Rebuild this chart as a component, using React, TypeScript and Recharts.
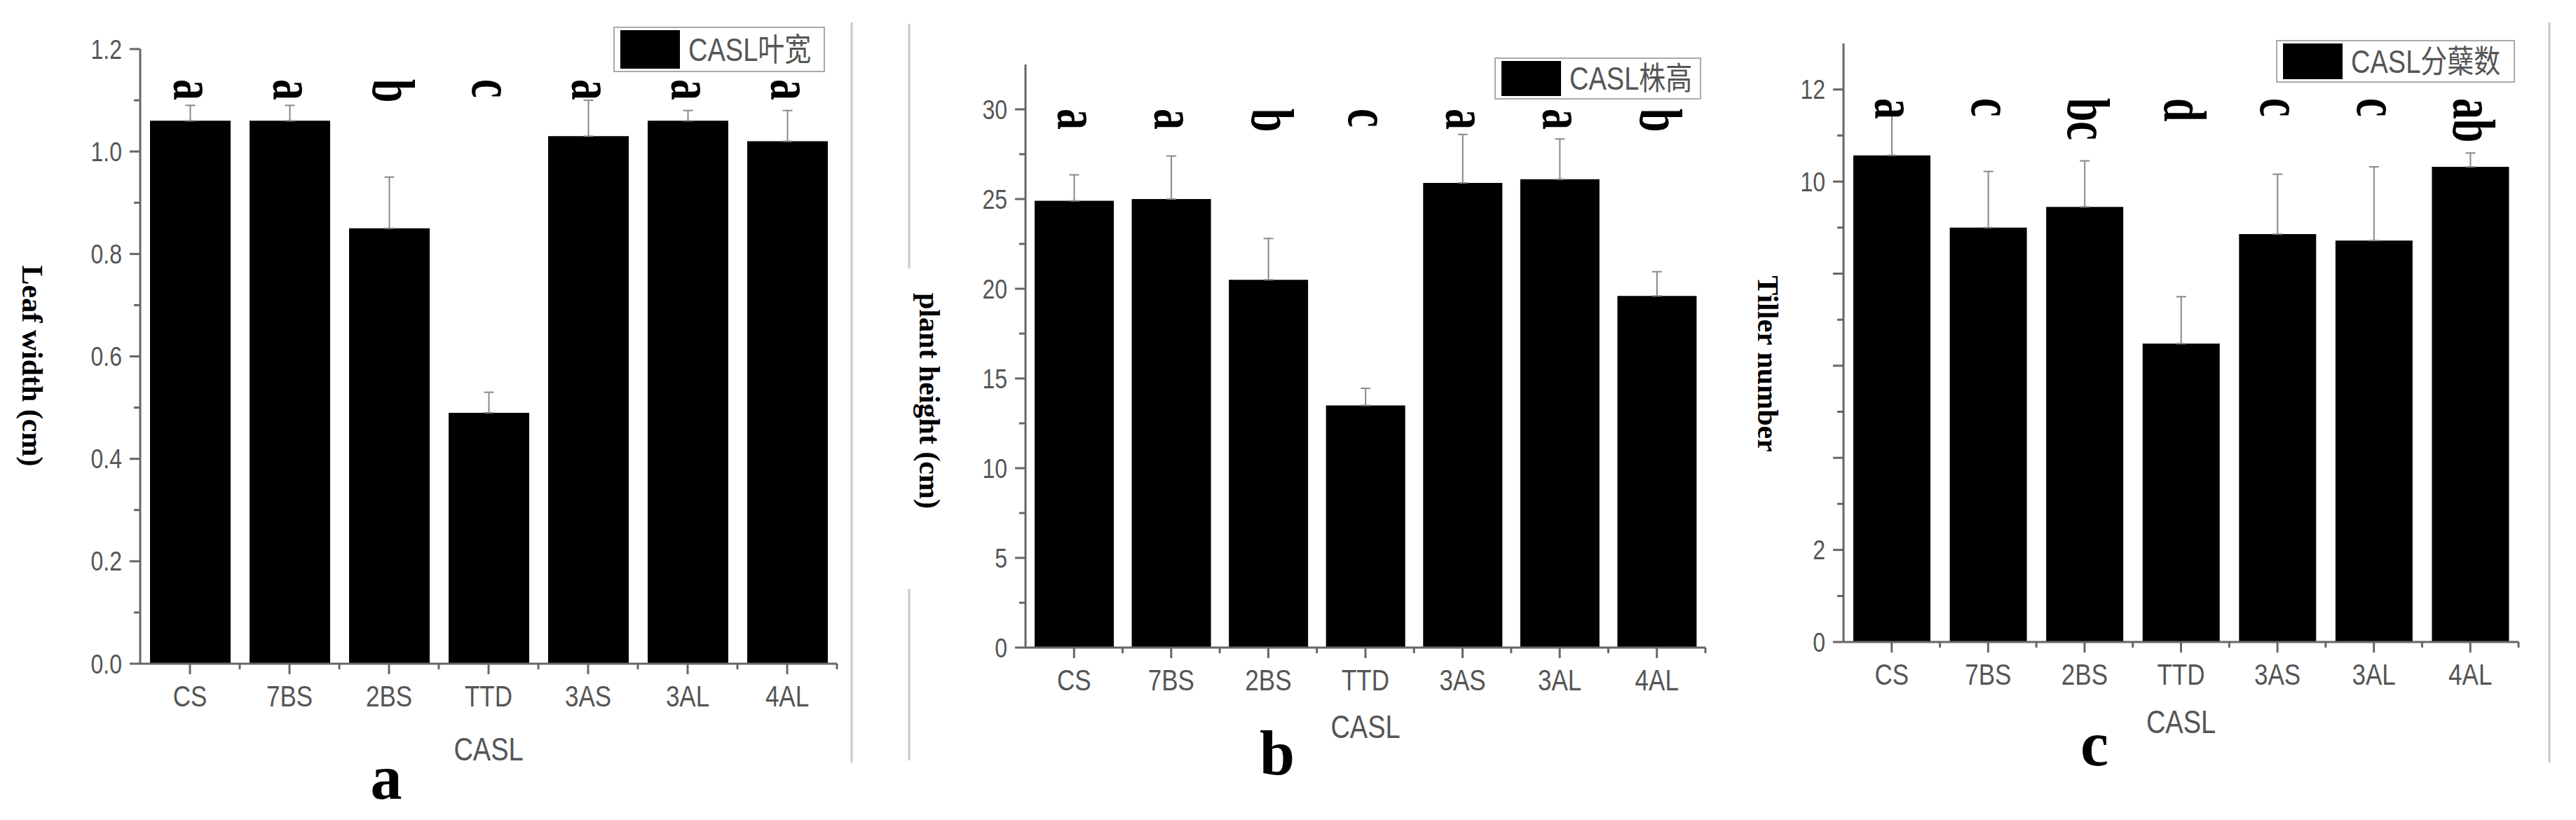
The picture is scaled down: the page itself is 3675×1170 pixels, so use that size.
import React from "react";
import { BarChart, Bar, XAxis, YAxis, ErrorBar, LabelList, Legend } from "recharts";

// shared categories (CASL lines)
const categories = ["CS", "7BS", "2BS", "TTD", "3AS", "3AL", "4AL"];
const xAxisTitle = "CASL";

// a: leaf width
const leafWidth = [1.06, 1.06, 0.85, 0.49, 1.03, 1.06, 1.02];
const leafWidthErr = [0.03, 0.03, 0.1, 0.04, 0.07, 0.02, 0.06];
const leafWidthLetters = ["a", "a", "b", "c", "a", "a", "a"];
const leafWidthTicks = [0, 0.1, 0.2, 0.3, 0.4, 0.5, 0.6, 0.7, 0.8, 0.9, 1.0, 1.1, 1.2];

// b: plant height
const plantHeight = [24.9, 25.0, 20.5, 13.5, 25.9, 26.1, 19.6];
const plantHeightErr = [1.45, 2.4, 2.3, 0.95, 2.7, 2.25, 1.35];
const plantHeightLetters = ["a", "a", "b", "c", "a", "a", "b"];
const plantHeightTicks = [0, 2.5, 5, 7.5, 10, 12.5, 15, 17.5, 20, 22.5, 25, 27.5, 30];

// c: tiller number
const tillerNumber = [10.57, 9.0, 9.45, 6.48, 8.86, 8.72, 10.32];
const tillerNumberErr = [0.87, 1.22, 1.0, 1.02, 1.3, 1.6, 0.3];
const tillerLetters = ["a", "c", "bc", "d", "c", "c", "ab"];
const tillerTicks = [0, 1, 2, 3, 4, 5, 6, 7, 8, 9, 10, 11, 12];
const tillerTickLabels = [0, 2, 10, 12];

const AXIS = "#666";
const TEXT = "#555";
const SANS = "'Liberation Sans', Arial, 'Noto Sans CJK SC', sans-serif";
const SERIF = "'Liberation Serif', 'Times New Roman', serif";
const H = 1170;
const Y_AXIS_W = 100;
const X_AXIS_H = 60;

type PanelProps = {
  left: number;
  width: number;
  plotLeft: number;
  plotTop: number;
  plotW: number;
  plotH: number;
  barSize: number;
  values: number[];
  errors: number[];
  letters: string[];
  ticks: number[];
  domainMax: number;
  isMajor: (v: number) => boolean;
  showLabel: (v: number) => boolean;
  format: (v: number) => string;
  yTitle: string;
  yTitleX: number;
  yTitleY: number;
  xTitleY: number;
  letterY: number;
  legendText: string;
  legendX: number;
  legendY: number;
  legendW: number;
  legendH: number;
};

function YTitle({ px, py, text }: { px: number; py: number; text: string }) {
  return (
    <text
      transform={`translate(${px},${py}) rotate(90)`}
      textAnchor="middle"
      fontSize={42}
      fontWeight="bold"
      fontFamily={SERIF}
      fill="#000"
    >
      {text}
    </text>
  );
}

function XTitle({ viewBox, py }: any) {
  const cx = viewBox.x + viewBox.width / 2;
  return (
    <text
      transform={`translate(${cx},${py}) scale(1,1.2)`}
      textAnchor="middle"
      dominantBaseline="central"
      fontSize={38}
      fill={TEXT}
      fontFamily={SANS}
    >
      {xAxisTitle}
    </text>
  );
}

function Panel(p: PanelProps) {
  const data = categories.map((name, i) => ({
    name,
    value: p.values[i],
    err: [0, p.errors[i]],
    letter: p.letters[i],
  }));
  const band = p.plotW / categories.length;
  const margin = {
    top: p.plotTop,
    left: p.plotLeft - Y_AXIS_W,
    right: p.width - p.plotLeft - p.plotW,
    bottom: H - p.plotTop - p.plotH - X_AXIS_H,
  };

  const yTick = (props: any) => {
    const { x, y, payload } = props;
    const v = payload.value;
    const major = p.isMajor(v);
    return (
      <g>
        <line x1={x} x2={x - (major ? 15 : 9)} y1={y} y2={y} stroke={AXIS} strokeWidth={3} />
        {major && p.showLabel(v) && (
          <text
            transform={`translate(${x - 26},${y}) scale(1,1.2)`}
            textAnchor="end"
            dominantBaseline="central"
            fontSize={32}
            fill={TEXT}
            fontFamily={SANS}
          >
            {p.format(v)}
          </text>
        )}
      </g>
    );
  };

  const xTick = (props: any) => {
    const { x, y, payload } = props;
    return (
      <g>
        <line x1={x} x2={x} y1={y} y2={y + 15} stroke={AXIS} strokeWidth={3} />
        <line x1={x + band / 2} x2={x + band / 2} y1={y} y2={y + 8} stroke={AXIS} strokeWidth={3} />
        <text
          transform={`translate(${x},${y + 46}) scale(1,1.2)`}
          textAnchor="middle"
          dominantBaseline="central"
          fontSize={35}
          fill={TEXT}
          fontFamily={SANS}
        >
          {payload.value}
        </text>
      </g>
    );
  };

  const letter = (props: any) => {
    const { x, width, value } = props;
    const cx = Number(x) + Number(width) / 2;
    return (
      <text
        transform={`translate(${cx - 24},${p.letterY}) scale(1.45,1) rotate(90)`}
        fontSize={60}
        fontWeight="bold"
        fontFamily={SERIF}
        fill="#000"
        textAnchor="start"
      >
        {value}
      </text>
    );
  };

  return (
    <div style={{ position: "absolute", left: p.left, top: 0, width: p.width, height: H }}>
      <BarChart width={p.width} height={H} data={data} margin={margin}>
        <XAxis
          dataKey="name"
          height={X_AXIS_H}
          axisLine={{ stroke: AXIS, strokeWidth: 3 }}
          tickLine={false}
          tickSize={0}
          tickMargin={0}
          tick={xTick}
          interval={0}
          label={<XTitle py={p.xTitleY} />}
        />
        <YAxis
          width={Y_AXIS_W}
          domain={[0, p.domainMax]}
          ticks={p.ticks}
          interval={0}
          axisLine={{ stroke: AXIS, strokeWidth: 3 }}
          tickLine={false}
          tickSize={0}
          tickMargin={0}
          tick={yTick}
          label={<YTitle px={p.yTitleX} py={p.yTitleY} text={p.yTitle} />}
        />
        <Legend
          layout="vertical"
          align="center"
          verticalAlign="middle"
          wrapperStyle={{ left: p.legendX, top: p.legendY, width: p.legendW, height: p.legendH }}
          content={() => (
            <div
              style={{
                display: "flex",
                alignItems: "center",
                boxSizing: "border-box",
                width: p.legendW,
                height: p.legendH,
                border: "2px solid #aaa",
                padding: "3px 8px",
                background: "#fff",
              }}
            >
              <div style={{ width: 85, height: p.legendH - 10, background: "#000", flex: "none" }} />
              <span
                style={{
                  marginLeft: 12,
                  fontSize: 38,
                  lineHeight: 1,
                  color: TEXT,
                  fontFamily: SANS,
                  whiteSpace: "nowrap",
                  display: "inline-block",
                  transform: "scaleY(1.2)",
                }}
              >
                {p.legendText}
              </span>
            </div>
          )}
        />
        <Bar dataKey="value" fill="#000" barSize={p.barSize} isAnimationActive={false}>
          <ErrorBar dataKey="err" width={7} stroke="#888" strokeWidth={2} />
          <LabelList dataKey="letter" content={letter} />
        </Bar>
      </BarChart>
    </div>
  );
}

export default function App() {
  return (
    <div style={{ position: "absolute", left: 0, top: 0, width: 3675, height: H, background: "#fff", overflow: "hidden" }}>
      <Panel
        left={0}
        width={1230}
        plotLeft={200}
        plotTop={70}
        plotW={994}
        plotH={877}
        barSize={115}
        values={leafWidth}
        errors={leafWidthErr}
        letters={leafWidthLetters}
        ticks={leafWidthTicks}
        domainMax={1.2}
        isMajor={(v) => Math.round(v * 10) % 2 === 0}
        showLabel={() => true}
        format={(v) => v.toFixed(1)}
        yTitle="Leaf width (cm)"
        yTitleX={32}
        yTitleY={522}
        xTitleY={1069}
        letterY={113}
        legendText="CASL叶宽"
        legendX={875}
        legendY={38}
        legendW={302}
        legendH={65}
      />
      <Panel
        left={1250}
        width={1230}
        plotLeft={213}
        plotTop={92}
        plotW={970}
        plotH={832}
        barSize={113}
        values={plantHeight}
        errors={plantHeightErr}
        letters={plantHeightLetters}
        ticks={plantHeightTicks}
        domainMax={32.5}
        isMajor={(v) => v % 5 === 0}
        showLabel={() => true}
        format={(v) => String(v)}
        yTitle="plant height (cm)"
        yTitleX={62}
        yTitleY={572}
        xTitleY={1037}
        letterY={155}
        legendText="CASL株高"
        legendX={882}
        legendY={82}
        legendW={295}
        legendH={60}
      />
      <Panel
        left={2480}
        width={1195}
        plotLeft={150}
        plotTop={62}
        plotW={963}
        plotH={854}
        barSize={110}
        values={tillerNumber}
        errors={tillerNumberErr}
        letters={tillerLetters}
        ticks={tillerTicks}
        domainMax={13}
        isMajor={(v) => v % 2 === 0}
        showLabel={(v) => tillerTickLabels.includes(v)}
        format={(v) => String(v)}
        yTitle="Tiller number"
        yTitleX={28}
        yTitleY={519}
        xTitleY={1030}
        letterY={140}
        legendText="CASL分蘖数"
        legendX={767}
        legendY={57}
        legendW={341}
        legendH={61}
      />
      <svg
        width={3675}
        height={H}
        style={{ position: "absolute", left: 0, top: 0, pointerEvents: "none" }}
      >
        <line x1={1215} x2={1215} y1={32} y2={1088} stroke="#c8c8c8" strokeWidth={3} />
        <line x1={1297} x2={1297} y1={34} y2={383} stroke="#c8c8c8" strokeWidth={3} />
        <line x1={1297} x2={1297} y1={840} y2={1085} stroke="#c8c8c8" strokeWidth={3} />
        <line x1={3637} x2={3637} y1={32} y2={1088} stroke="#c8c8c8" strokeWidth={3} />
        <text x={551} y={1140} textAnchor="middle" fontSize={90} fontWeight="bold" fontFamily={SERIF} fill="#000">
          a
        </text>
        <text x={1822} y={1105} textAnchor="middle" fontSize={90} fontWeight="bold" fontFamily={SERIF} fill="#000">
          b
        </text>
        <text x={2988} y={1092} textAnchor="middle" fontSize={90} fontWeight="bold" fontFamily={SERIF} fill="#000">
          c
        </text>
      </svg>
    </div>
  );
}
